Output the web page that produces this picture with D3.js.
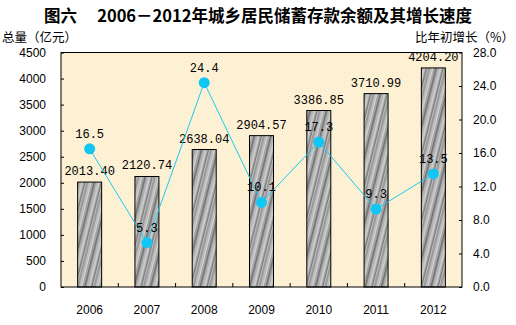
<!DOCTYPE html>
<html><head><meta charset="utf-8">
<script src="https://cdn.jsdelivr.net/npm/d3@7"></script>
<style>body{margin:0;background:#fff}svg{display:block}</style>
</head><body>
<svg id="c" width="516" height="325"></svg>
<script>
const years = ["2006","2007","2008","2009","2010","2011","2012"];
const totals = [2013.40, 2120.74, 2638.04, 2904.57, 3386.85, 3710.99, 4204.20];
const growth = [16.5, 5.3, 24.4, 10.1, 17.3, 9.3, 13.5];
const leftTicks = [0,500,1000,1500,2000,2500,3000,3500,4000,4500];
const rightTicks = [0,4,8,12,16,20,24,28];
const title = "图六　 2006－2012年城乡居民储蓄存款余额及其增长速度";
const leftTitle = "总量（亿元）";
const rightTitle = "比年初增长（%）";

const svg = d3.select("#c");
const m = {l:61, r:462, t:52.5, b:287};
const x = d3.scaleBand().domain(years).range([m.l, m.r]);
const yL = d3.scaleLinear().domain([0,4500]).range([m.b, m.t]);
const yR = d3.scaleLinear().domain([0,28]).range([m.b, m.t]);

const defs = svg.append("defs");
const bg = defs.append("pattern").attr("id","bgp").attr("width",2).attr("height",2).attr("patternUnits","userSpaceOnUse");
bg.append("rect").attr("width",2).attr("height",2).attr("fill","#FFF7D9");
bg.append("rect").attr("width",1).attr("height",1).attr("fill","#FAE6CF");
bg.append("rect").attr("x",1).attr("y",1).attr("width",1).attr("height",1).attr("fill","#FDEFCB");

const bp = defs.append("pattern").attr("id","barp").attr("width",16).attr("height",40)
  .attr("patternUnits","userSpaceOnUse").attr("patternTransform","rotate(14)");
const stripes = [["#9a9a9a",2],["#bdbdbd",2],["#d4d4d4",1],["#a4a4a4",2],["#6e6e6e",1],["#8c8c8c",1],["#b4b4b4",2],["#cacaca",2],["#a0a0a0",1],["#7a7a7a",1],["#bcbcbc",1]];
let sx = 0;
stripes.forEach(([c,w]) => { bp.append("rect").attr("x",sx).attr("y",0).attr("width",w).attr("height",40).attr("fill",c); sx += w; });

svg.append("rect").attr("x",m.l).attr("y",m.t).attr("width",m.r-m.l).attr("height",m.b-m.t).attr("fill","url(#bgp)");

// title
svg.append("text").attr("x",258).attr("y",22).attr("text-anchor","middle")
  .attr("font-family","Noto Sans CJK SC").attr("font-weight","bold").attr("font-size",16.5).attr("fill","#000").text(title);
svg.append("text").attr("x",2).attr("y",42).attr("font-family","Noto Sans CJK SC").attr("font-size",12.5).text(leftTitle);
svg.append("text").attr("x",514).attr("y",42).attr("text-anchor","end").attr("font-family","Noto Sans CJK SC").attr("font-size",12.5).text(rightTitle);

// bars
const bw = 24;
svg.selectAll(".bar").data(years).enter().append("rect")
  .attr("x", d => x(d) + x.bandwidth()/2 - bw/2)
  .attr("y", (d,i) => yL(totals[i]))
  .attr("width", bw).attr("height", (d,i) => m.b - yL(totals[i]))
  .attr("fill","url(#barp)").attr("stroke","#000").attr("stroke-width",1);

svg.selectAll(".bl").data(years).enter().append("text")
  .attr("x", d => x(d) + x.bandwidth()/2)
  .attr("y", (d,i) => yL(totals[i]) - 7)
  .attr("text-anchor","middle").attr("font-family","Liberation Mono, DejaVu Sans Mono, monospace").attr("font-size",12)
  .text((d,i) => totals[i].toFixed(2));

// axes
const fontAx = "Liberation Sans, Arial, sans-serif";
const gL = svg.append("g").attr("transform",`translate(${m.l},0)`)
  .call(d3.axisLeft(yL).tickValues(leftTicks).tickSize(-3).tickFormat(d3.format("d")));
gL.selectAll("text").attr("text-anchor","end").attr("dx",0).attr("x",-15).attr("font-family",fontAx).attr("font-size",12).attr("fill","#000");
const gR = svg.append("g").attr("transform",`translate(${m.r},0)`)
  .call(d3.axisRight(yR).tickValues(rightTicks).tickSize(-3).tickFormat(d3.format(".1f")));
gR.selectAll("text").attr("x",11).attr("font-family",fontAx).attr("font-size",12).attr("fill","#000");
const gB = svg.append("g").attr("transform",`translate(0,${m.b})`)
  .call(d3.axisBottom(x).tickSize(0));
gB.selectAll("text").attr("y",18).attr("font-family",fontAx).attr("font-size",12).attr("fill","#000");
[gL,gR,gB].forEach(g => { g.select(".domain").remove(); g.selectAll("line").attr("stroke","#000"); });
// category separator ticks (inward)
svg.selectAll(".ct").data(years.slice(1)).enter().append("line")
  .attr("x1", d => x(d)).attr("x2", d => x(d)).attr("y1", m.b).attr("y2", m.b-4).attr("stroke","#000");

// frame
svg.append("rect").attr("x",m.l).attr("y",m.t).attr("width",m.r-m.l).attr("height",m.b-m.t)
  .attr("fill","none").attr("stroke","#000").attr("stroke-width",1);

// line
const cx = d => x(d) + x.bandwidth()/2;
const line = d3.line().x((d,i) => cx(years[i])).y(d => yR(d));
svg.append("path").datum(growth).attr("d", line).attr("fill","none").attr("stroke","#1CC8F2").attr("stroke-width",1);
svg.selectAll(".pt").data(growth).enter().append("circle")
  .attr("cx",(d,i) => cx(years[i])).attr("cy", d => yR(d)).attr("r",5.5).attr("fill","#12C6F4");
svg.selectAll(".gl").data(growth).enter().append("text")
  .attr("x",(d,i) => cx(years[i])).attr("y", d => yR(d) - 11)
  .attr("text-anchor","middle").attr("font-family","Liberation Mono, DejaVu Sans Mono, monospace").attr("font-size",12)
  .text(d => d.toFixed(1));
</script>
</body></html>
